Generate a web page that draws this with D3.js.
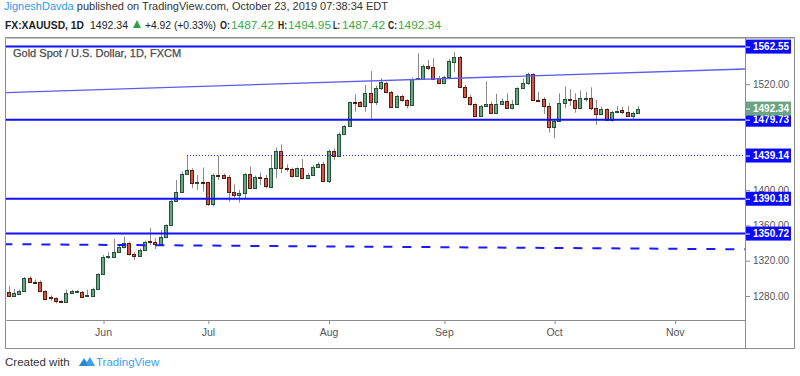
<!DOCTYPE html>
<html>
<head>
<meta charset="utf-8">
<script src="https://cdn.jsdelivr.net/npm/d3@7"></script>
<style>
  body { margin: 0; background: #fff; }
  svg { display: block; font-family: 'Liberation Sans', Arial, sans-serif; }
</style>
</head>
<body>
<svg width="800" height="376"></svg>
<script>
// daily XAUUSD candles, first bar 2019-05-08, weekdays only
const opens = [
  1284.2, 1280.0, 1282.7, 1285.7, 1300.0, 1296.3, 1295.5, 1285.7, 1278.5, 1277.4,
  1274.7, 1272.8, 1283.0, 1284.6, 1284.9, 1279.6, 1280.0, 1288.0, 1304.6, 1323.8,
  1324.6, 1329.5, 1335.5, 1340.5, 1327.6, 1325.7, 1332.5, 1342.0, 1340.8, 1339.3,
  1346.9, 1360.5, 1387.7, 1398.3, 1418.7, 1422.4, 1408.1, 1409.0, 1408.8, 1383.9,
  1417.5, 1417.1, 1414.9, 1397.9, 1394.5, 1396.4, 1418.7, 1402.8, 1415.3, 1414.1,
  1404.0, 1425.5, 1444.3, 1425.5, 1423.6, 1416.0, 1424.7, 1413.4, 1417.1, 1426.6,
  1429.6, 1410.7, 1444.3, 1439.0, 1463.2, 1472.6, 1499.8, 1499.4, 1495.7, 1510.4,
  1500.2, 1516.1, 1521.7, 1511.5, 1494.1, 1506.6, 1501.7, 1496.4, 1525.5, 1525.9,
  1541.0, 1539.1, 1526.6, 1521.0, 1528.1, 1545.5, 1550.8, 1517.2, 1505.9, 1497.2,
  1484.3, 1495.3, 1497.5, 1487.7, 1497.2, 1500.6, 1492.6, 1497.5, 1515.3, 1521.0,
  1531.2, 1502.5, 1502.8, 1495.3, 1471.9, 1478.3, 1498.3, 1503.2, 1502.1, 1492.6,
  1504.0, 1504.3, 1492.6, 1485.8, 1491.5, 1479.4, 1488.5, 1490.4, 1488.5, 1484.0,
  1487.42
];
const highs = [
  1291.4, 1288.0, 1287.2, 1301.5, 1302.7, 1298.9, 1297.8, 1286.4, 1280.8, 1278.5,
  1275.5, 1287.2, 1286.8, 1286.8, 1285.7, 1287.2, 1289.5, 1305.7, 1326.5, 1329.5,
  1344.6, 1337.0, 1347.3, 1341.6, 1329.5, 1334.0, 1342.7, 1357.4, 1345.4, 1354.8,
  1361.2, 1390.0, 1411.5, 1421.0, 1439.1, 1424.7, 1417.1, 1425.5, 1409.6, 1418.7,
  1439.0, 1418.7, 1417.1, 1406.6, 1400.1, 1419.4, 1426.6, 1416.4, 1419.8, 1417.1,
  1439.5, 1448.1, 1451.9, 1429.2, 1425.5, 1425.8, 1435.3, 1419.0, 1428.5, 1431.5,
  1432.3, 1446.0, 1447.3, 1465.4, 1473.8, 1500.2, 1508.5, 1500.9, 1519.1, 1534.9,
  1518.3, 1526.6, 1522.9, 1512.3, 1507.7, 1507.7, 1502.8, 1527.4, 1555.0, 1542.5,
  1547.4, 1549.3, 1529.6, 1529.6, 1548.2, 1556.1, 1551.9, 1519.1, 1507.7, 1498.3,
  1496.4, 1523.2, 1500.2, 1508.9, 1504.0, 1509.6, 1502.1, 1516.4, 1526.6, 1533.0,
  1532.3, 1511.5, 1505.1, 1499.1, 1479.4, 1509.6, 1517.2, 1514.2, 1509.6, 1512.7,
  1511.5, 1516.4, 1502.1, 1494.5, 1492.6, 1490.0, 1495.3, 1494.5, 1495.3, 1488.9,
  1494.95
];
const lows = [
  1279.6, 1279.3, 1282.3, 1285.3, 1295.9, 1294.0, 1285.3, 1276.2, 1274.7, 1271.7,
  1272.8, 1272.5, 1282.7, 1283.8, 1278.5, 1279.3, 1279.3, 1287.6, 1303.8, 1321.9,
  1323.8, 1329.1, 1334.0, 1325.7, 1320.8, 1325.0, 1331.8, 1337.8, 1333.3, 1338.6,
  1345.4, 1359.7, 1387.0, 1397.5, 1417.1, 1402.0, 1400.1, 1398.3, 1382.0, 1381.3,
  1411.5, 1413.4, 1386.9, 1391.5, 1385.8, 1390.0, 1402.0, 1402.0, 1405.8, 1402.0,
  1403.2, 1413.4, 1419.0, 1420.9, 1414.1, 1414.9, 1412.2, 1412.6, 1416.4, 1425.5,
  1409.6, 1408.0, 1434.0, 1437.9, 1462.4, 1471.9, 1488.9, 1494.9, 1488.9, 1479.4,
  1496.4, 1513.4, 1509.6, 1493.4, 1493.4, 1500.2, 1492.6, 1495.7, 1524.7, 1524.7,
  1536.1, 1524.7, 1519.8, 1519.8, 1526.6, 1534.2, 1516.1, 1504.7, 1495.7, 1483.9,
  1483.2, 1494.5, 1486.2, 1487.0, 1496.0, 1491.9, 1491.5, 1496.8, 1514.2, 1519.1,
  1501.3, 1500.2, 1486.2, 1465.1, 1458.6, 1477.2, 1492.6, 1495.3, 1487.7, 1491.5,
  1500.2, 1490.7, 1473.7, 1484.7, 1478.3, 1477.5, 1487.0, 1486.2, 1483.2, 1480.5,
  1487.42
];
const closes = [
  1280.4, 1283.0, 1286.1, 1300.0, 1296.3, 1295.1, 1285.7, 1277.0, 1277.8, 1274.4,
  1273.2, 1283.0, 1285.3, 1285.3, 1279.3, 1280.8, 1288.0, 1304.6, 1324.6, 1325.3,
  1329.9, 1335.5, 1340.1, 1327.2, 1325.3, 1332.5, 1341.6, 1340.8, 1339.3, 1346.9,
  1360.5, 1387.7, 1398.3, 1418.7, 1422.4, 1408.1, 1409.2, 1408.5, 1383.9, 1417.1,
  1416.0, 1414.1, 1397.5, 1394.5, 1397.2, 1418.7, 1402.8, 1415.3, 1413.4, 1404.7,
  1425.5, 1444.3, 1424.7, 1423.6, 1416.4, 1424.7, 1413.4, 1417.1, 1426.6, 1429.6,
  1410.7, 1444.3, 1439.0, 1463.2, 1472.6, 1499.4, 1498.7, 1495.7, 1510.4, 1500.2,
  1516.1, 1522.1, 1511.5, 1494.5, 1507.0, 1501.7, 1496.4, 1525.9, 1526.6, 1541.0,
  1538.7, 1525.9, 1521.0, 1528.1, 1546.3, 1550.8, 1517.2, 1505.9, 1497.2, 1484.3,
  1495.7, 1497.5, 1487.7, 1497.5, 1500.6, 1492.6, 1497.5, 1515.3, 1521.7, 1531.2,
  1502.1, 1501.7, 1495.3, 1471.9, 1478.3, 1498.3, 1503.2, 1502.1, 1492.6, 1504.0,
  1504.7, 1492.6, 1485.8, 1491.5, 1479.4, 1488.5, 1490.0, 1488.5, 1484.0, 1487.42,
  1492.34
];
const firstDay = new Date(2019, 4, 8);

// drawings
const levels = [1562.55, 1479.73, 1390.18, 1350.72];
const highLevel = 1439.14;
const highLevelStart = 34;
const trendLine = [[-1, 1510.4], [141, 1537.3]];
const dashedLine = [[-1, 1338.7], [141, 1332.9]];
// the 1440/1480/1560 ticks sit fully under the level tags, so only these show
const priceTicks = [1280, 1320, 1360, 1400, 1520];
const lastPrice = 1492.34;

const svg = d3.select('svg');
const plotLeft = 6, plotRight = 745, plotTop = 38, plotBottom = 320;

const x = d3.scaleLinear().domain([-0.5, 140.4]).range([plotLeft, plotRight]);
const y = d3.scaleLinear().domain([1252.8, 1572.3]).range([plotBottom, plotTop]);

// trading days for the time axis
const days = d3.timeDay.range(firstDay, new Date(2019, 11, 31))
  .filter(d => d.getDay() !== 0 && d.getDay() !== 6)
  .slice(0, 141);
const monthIdx = days.map((d, i) => i)
  .filter(i => i > 0 && days[i].getMonth() !== days[i - 1].getMonth());

// header
const head1 = svg.append('text').attr('x', 4).attr('y', 10).attr('font-size', 11.3)
  .attr('textLength', 384).attr('lengthAdjust', 'spacingAndGlyphs');
head1.append('tspan').attr('fill', '#2a9be6').text('JigneshDavda');
head1.append('tspan').attr('fill', '#333').text(' published on TradingView.com, October 23, 2019 07:38:34 EDT');

const head2 = svg.append('g').attr('font-size', 11);
const green = '#3aa93f';
[
  { x: 5, w: 79, t: 'FX:XAUUSD, 1D', b: true, c: '#222' },
  { x: 90, w: 38, t: '1492.34', c: '#222' },
  { x: 145, w: 71, t: '+4.92 (+0.33%)', c: '#222' },
  { x: 220, w: 10, t: 'O:', b: true, c: '#222' },
  { x: 231, w: 43, t: '1487.42', c: green },
  { x: 278, w: 9, t: 'H:', b: true, c: '#222' },
  { x: 288, w: 43, t: '1494.95', c: green },
  { x: 333, w: 7, t: 'L:', b: true, c: '#222' },
  { x: 342, w: 43, t: '1487.42', c: green },
  { x: 388, w: 9, t: 'C:', b: true, c: '#222' },
  { x: 398, w: 43, t: '1492.34', c: green }
].forEach(s => {
  head2.append('text').attr('x', s.x).attr('y', 28.5)
    .attr('textLength', s.w).attr('lengthAdjust', 'spacingAndGlyphs')
    .attr('font-weight', s.b ? 'bold' : 'normal').attr('fill', s.c).text(s.t);
});
head2.append('path').attr('d', 'M133,28 L141,28 L137,20 Z').attr('fill', '#2ea043');

// frame
svg.append('rect').attr('x', 5.5).attr('y', 37.5).attr('width', 789).attr('height', 311)
  .attr('fill', 'none').attr('stroke', '#8c8c8c');
svg.append('line').attr('x1', 5).attr('x2', 795).attr('y1', 38.5).attr('y2', 38.5)
  .attr('stroke', '#c4c4c4');

svg.append('defs').append('clipPath').attr('id', 'plot')
  .append('rect').attr('x', plotLeft).attr('y', plotTop)
  .attr('width', plotRight - plotLeft).attr('height', plotBottom - plotTop);
const plot = svg.append('g').attr('clip-path', 'url(#plot)');

plot.append('text').attr('x', 13).attr('y', 57).attr('font-size', 11)
  .attr('fill', '#4a4a4a').attr('stroke', '#4a4a4a').attr('stroke-width', 0.25)
  .text('Gold Spot / U.S. Dollar, 1D, FXCM');

// candles
const idx = d3.range(opens.length);
const px = i => Math.round(x(i));
plot.selectAll('line.wick').data(idx).join('line').attr('class', 'wick')
  .attr('x1', i => px(i) + 0.5).attr('x2', i => px(i) + 0.5)
  .attr('y1', i => y(highs[i])).attr('y2', i => y(lows[i]))
  .attr('stroke', '#8a8a8c').attr('stroke-width', 1);
plot.selectAll('rect.body').data(idx).join('rect').attr('class', 'body')
  .attr('x', i => px(i) - 1.5)
  .attr('width', 3)
  .attr('y', i => Math.round(y(Math.max(opens[i], closes[i]))) + 0.5)
  .attr('height', i => Math.max(1, Math.round(y(Math.min(opens[i], closes[i]))) - Math.round(y(Math.max(opens[i], closes[i])))))
  .attr('fill', i => closes[i] >= opens[i] ? '#6ba583' : '#d75442')
  .attr('stroke', i => closes[i] >= opens[i] ? '#225437' : '#5b1a13')
  .attr('stroke-width', 1);

// drawings
const line = d3.line().x(d => x(d[0])).y(d => y(d[1]));
plot.append('path').attr('d', line(trendLine)).attr('fill', 'none')
  .attr('stroke', '#5c5cf4').attr('stroke-width', 1.3);
plot.append('path').attr('d', line(dashedLine)).attr('fill', 'none')
  .attr('stroke', '#1a1aff').attr('stroke-width', 2).attr('stroke-dasharray', '9,10');
plot.append('line').attr('x1', x(highLevelStart)).attr('x2', plotRight)
  .attr('y1', y(highLevel)).attr('y2', y(highLevel))
  .attr('stroke', '#1a1aff').attr('stroke-width', 1).attr('stroke-dasharray', '1,2');
plot.selectAll('line.level').data(levels).join('line').attr('class', 'level')
  .attr('x1', plotLeft).attr('x2', plotRight)
  .attr('y1', d => y(d)).attr('y2', d => y(d))
  .attr('stroke', '#1010ff').attr('stroke-width', 2);

// time axis
const xAxis = d3.axisBottom(x).tickValues(monthIdx)
  .tickFormat(i => d3.timeFormat('%b')(days[i])).tickSize(4).tickSizeOuter(0);
const gx = svg.append('g').attr('transform', `translate(0,${plotBottom})`).call(xAxis);
gx.select('.domain').attr('stroke', '#8c8c8c');
gx.selectAll('.tick line').attr('stroke', '#8c8c8c').attr('transform', 'translate(0.5,0)');
gx.selectAll('.tick text').attr('fill', '#555').attr('font-size', 10.5)
  .attr('font-family', 'Liberation Sans, Arial, sans-serif').attr('dy', '0.9em');

// price axis
svg.append('line').attr('x1', plotRight + 0.5).attr('x2', plotRight + 0.5)
  .attr('y1', plotTop).attr('y2', 349).attr('stroke', '#8c8c8c');
const yAxis = d3.axisRight(y).tickValues(priceTicks).tickFormat(d3.format('.2f'))
  .tickSize(4).tickPadding(3).tickSizeOuter(0);
const gy = svg.append('g').attr('transform', `translate(${plotRight + 1},0)`).call(yAxis);
gy.select('.domain').remove();
gy.selectAll('.tick line').attr('stroke', '#8c8c8c');
gy.selectAll('.tick text').attr('fill', '#555').attr('font-size', 10)
  .attr('font-family', 'Liberation Sans, Arial, sans-serif');

// price labels
const tags = levels.map(v => ({ v, c: '#0a0aff' }))
  .concat([{ v: highLevel, c: '#0a0aff' }, { v: lastPrice, c: '#6ba583' }]);
const tag = svg.selectAll('g.tag').data(tags).join('g').attr('class', 'tag')
  .attr('transform', d => `translate(${plotRight + 1},${y(d.v)})`);
tag.append('rect').attr('x', 0).attr('y', -7).attr('width', 45).attr('height', 14).attr('fill', d => d.c);
tag.append('line').attr('x1', 0).attr('x2', 4).attr('y1', 0.5).attr('y2', 0.5).attr('stroke', '#fff');
tag.append('text').attr('x', 7).attr('dy', '0.36em').attr('font-size', 10).attr('font-weight', 'bold')
  .attr('fill', '#fff').text(d => d3.format('.2f')(d.v));

// footer
svg.append('text').attr('x', 5).attr('y', 366).attr('font-size', 11.5).attr('fill', '#333').text('Created with');
svg.append('path').attr('d', 'M79,366 L84,358.5 L87,362 L90,357 L95,366 Z').attr('fill', '#3aa1ea');
svg.append('path').attr('d', 'M79,366 L84,358.5 L88,366 Z').attr('fill', '#2b86d6');
svg.append('text').attr('x', 96).attr('y', 366).attr('font-size', 11.5).attr('fill', '#3aa1ea').text('TradingView');
</script>
</body>
</html>
